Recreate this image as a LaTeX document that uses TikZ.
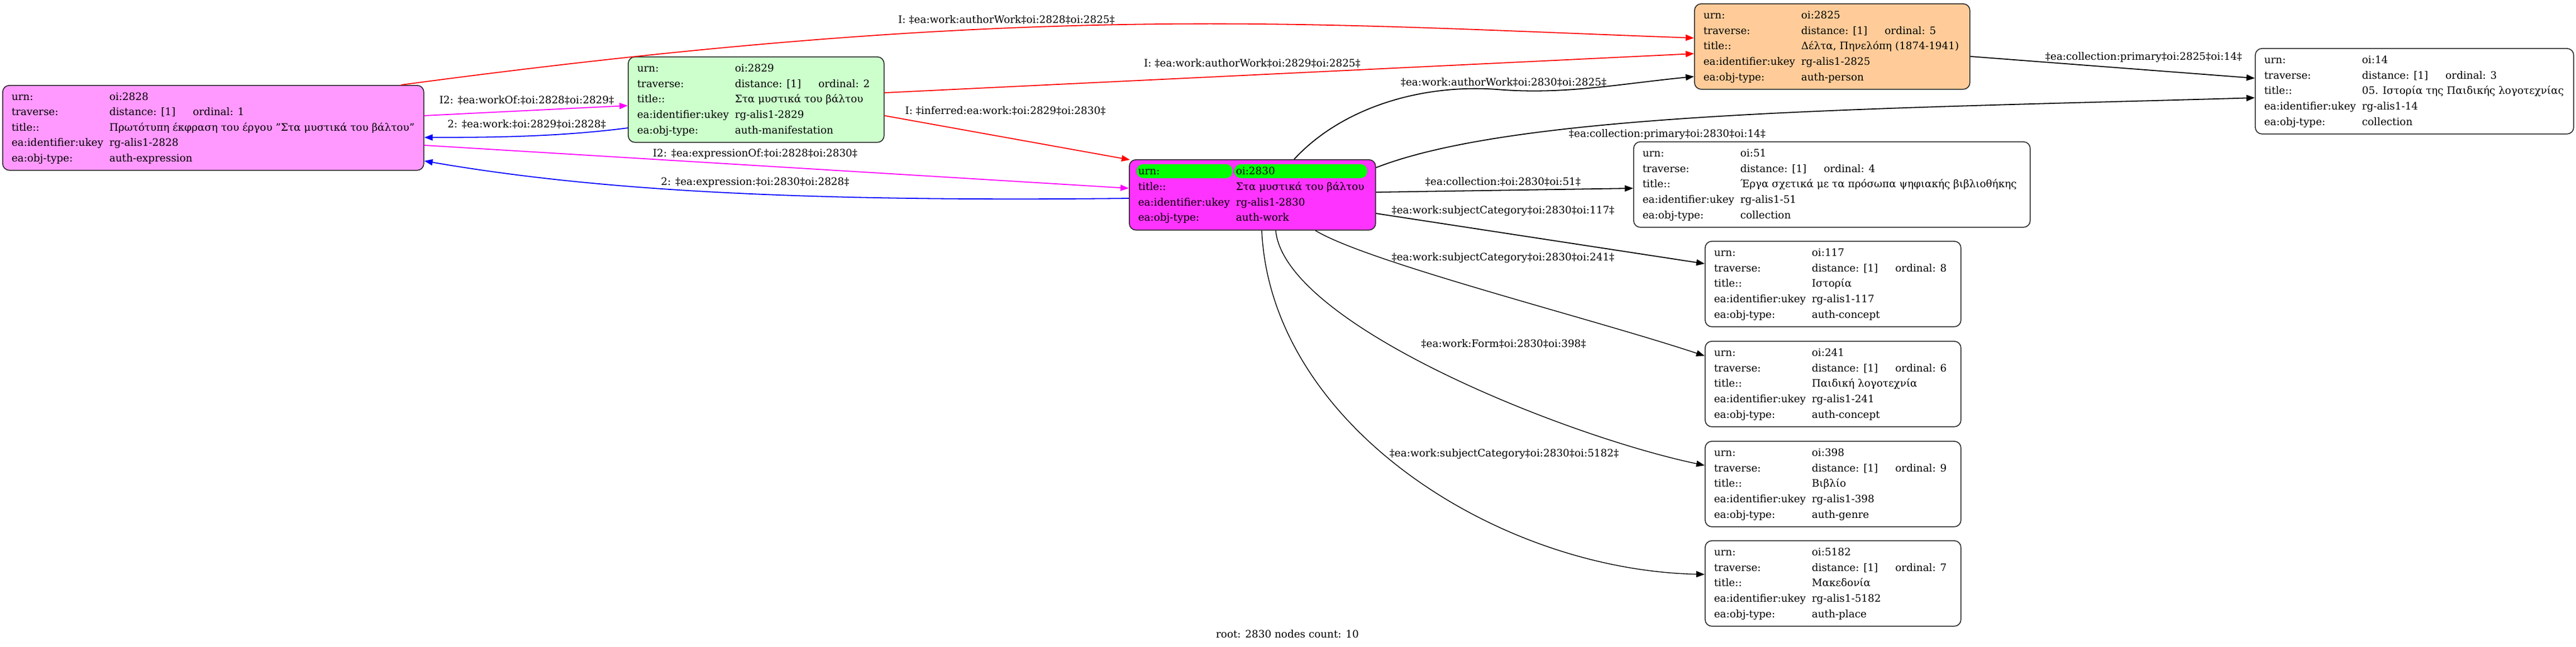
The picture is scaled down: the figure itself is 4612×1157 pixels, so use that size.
\documentclass[tikz,border=0pt]{standalone}
\usepackage{fontspec}
\setmainfont{DejaVu Serif}
\usetikzlibrary{arrows.meta,calc}
\definecolor{cPink}{HTML}{FF99FF}
\definecolor{cGreen}{HTML}{CCFFCC}
\definecolor{cMag}{HTML}{FF33FF}
\definecolor{cOrange}{HTML}{FFCC99}
\definecolor{cHi}{HTML}{00FF00}
\definecolor{eRed}{HTML}{FF0000}
\definecolor{eMag}{HTML}{FF00FF}
\definecolor{eBlue}{HTML}{0000FF}
\tikzset{
  recbox/.style={draw=black!85, line width=1.6pt, rounded corners=12pt, anchor=north west,
    inner xsep=16pt, inner ysep=0pt, align=left, font=\fontsize{18.4}{27.6}\selectfont},
  conn/.style={line width=1.8pt, -{Triangle[length=15pt,width=11pt]}},
  elab/.style={font=\fontsize{18.4}{22}\selectfont, inner sep=0pt},
}
\newcommand\rr[2]{\makebox[175pt][l]{\strut #1}\makebox[\vw][l]{#2}}
\newcommand\trav[1]{distance: [1]\hspace{31pt}ordinal: #1}
\begin{document}
\begin{tikzpicture}[x=1pt,y=-1pt]
\fill[white] (0,0) rectangle (4612,1157);
\useasboundingbox (0,0) rectangle (4612,1157);

% ---- boxes
\def\vw{547pt}
\node[recbox, fill=cPink, minimum width=754pt, minimum height=152pt] (n2828) at (4,152)
 {\rr{urn:}{oi:2828}\\ \rr{traverse:}{\trav{1}}\\ \rr{title::}{Πρωτότυπη έκφραση του έργου "Στα μυστικά του βάλτου"}\\ \rr{ea:identifier:ukey}{rg-alis1-2828}\\ \rr{ea:obj-type:}{auth-expression}};
\def\vw{251pt}
\node[recbox, fill=cGreen, minimum width=458pt, minimum height=153pt] (n2829) at (1124,101)
 {\rr{urn:}{oi:2829}\\ \rr{traverse:}{\trav{2}}\\ \rr{title::}{Στα μυστικά του βάλτου}\\ \rr{ea:identifier:ukey}{rg-alis1-2829}\\ \rr{ea:obj-type:}{auth-manifestation}};
\def\vw{234pt}
\node[recbox, fill=cMag, minimum width=441pt, minimum height=126pt,
  path picture={\fill[cHi] ([shift={(13pt,-8pt)}]path picture bounding box.north west) rectangle ++(172pt,-25pt);
                \fill[cHi] ([shift={(188pt,-8pt)}]path picture bounding box.north west) rectangle ++(238pt,-25pt);}] (n2830) at (2021,285)
 {\rr{urn:}{oi:2830}\\ \rr{title::}{Στα μυστικά του βάλτου}\\ \rr{ea:identifier:ukey}{rg-alis1-2830}\\ \rr{ea:obj-type:}{auth-work}};
\def\vw{286pt}
\node[recbox, fill=cOrange, minimum width=493pt, minimum height=153pt] (n2825) at (3033,6)
 {\rr{urn:}{oi:2825}\\ \rr{traverse:}{\trav{5}}\\ \rr{title::}{Δέλτα, Πηνελόπη (1874-1941)}\\ \rr{ea:identifier:ukey}{rg-alis1-2825}\\ \rr{ea:obj-type:}{auth-person}};
\def\vw{363pt}
\node[recbox, fill=white, minimum width=570pt, minimum height=153pt] (n14) at (4037,86)
 {\rr{urn:}{oi:14}\\ \rr{traverse:}{\trav{3}}\\ \rr{title::}{05. Ιστορία της Παιδικής λογοτεχνίας}\\ \rr{ea:identifier:ukey}{rg-alis1-14}\\ \rr{ea:obj-type:}{collection}};
\def\vw{503pt}
\node[recbox, fill=white, minimum width=710pt, minimum height=153pt] (n51) at (2924,253)
 {\rr{urn:}{oi:51}\\ \rr{traverse:}{\trav{4}}\\ \rr{title::}{Έργα σχετικά με τα πρόσωπα ψηφιακής βιβλιοθήκης}\\ \rr{ea:identifier:ukey}{rg-alis1-51}\\ \rr{ea:obj-type:}{collection}};
\def\vw{251pt}
\node[recbox, fill=white, minimum width=458pt, minimum height=153pt] (n117) at (3052,431)
 {\rr{urn:}{oi:117}\\ \rr{traverse:}{\trav{8}}\\ \rr{title::}{Ιστορία}\\ \rr{ea:identifier:ukey}{rg-alis1-117}\\ \rr{ea:obj-type:}{auth-concept}};
\node[recbox, fill=white, minimum width=458pt, minimum height=153pt] (n241) at (3052,610)
 {\rr{urn:}{oi:241}\\ \rr{traverse:}{\trav{6}}\\ \rr{title::}{Παιδική λογοτεχνία}\\ \rr{ea:identifier:ukey}{rg-alis1-241}\\ \rr{ea:obj-type:}{auth-concept}};
\node[recbox, fill=white, minimum width=458pt, minimum height=153pt] (n398) at (3052,789)
 {\rr{urn:}{oi:398}\\ \rr{traverse:}{\trav{9}}\\ \rr{title::}{Βιβλίο}\\ \rr{ea:identifier:ukey}{rg-alis1-398}\\ \rr{ea:obj-type:}{auth-genre}};
\node[recbox, fill=white, minimum width=458pt, minimum height=153pt] (n5182) at (3052,967)
 {\rr{urn:}{oi:5182}\\ \rr{traverse:}{\trav{7}}\\ \rr{title::}{Μακεδονία}\\ \rr{ea:identifier:ukey}{rg-alis1-5182}\\ \rr{ea:obj-type:}{auth-place}};

% ---- connectors
\draw[conn, eRed] ($(n2828.north west)+(714,0)$) .. controls (1850,0) and (2333,43) .. ($(n2825.north west)+(0,62)$);
\draw[conn, eRed] ($(n2829.north east)+(0,65)$) -- ($(n2825.north west)+(0,90)$);
\draw[conn, eRed] ($(n2829.north east)+(0,106)$) -- ($(n2830.north west)+(2,1)$);
\draw[conn, eMag] ($(n2828.north east)+(0,55)$) -- ($(n2829.north west)+(0,88)$);
\draw[conn, eBlue] ($(n2829.north west)+(0,128)$) .. controls (1000,245) and (880,246) .. ($(n2828.north east)+(0,94)$);
\draw[conn, eMag] ($(n2828.north east)+(0,108)$) -- ($(n2830.north west)+(0,52)$);
\draw[conn, eBlue] ($(n2830.north west)+(0,70)$) .. controls (1400,362) and (1050,338) .. ($(n2828.north east)+(0,136)$);
\draw[conn] ($(n2830.north west)+(296,0)$) .. controls (2400,195) and (2540,150) .. (2680,160) .. controls (2800,170) and (2900,150) .. ($(n2825.north west)+(0,131)$);
\draw[conn] ($(n2825.north east)+(0,95)$) -- ($(n14.north west)+(0,54)$);
\draw[conn] ($(n2830.north east)+(0,15)$) .. controls (2720,200) and (3350,195) .. ($(n14.north west)+(0,89)$);
\draw[conn] ($(n2830.north east)+(0,59)$) -- ($(n51.north west)+(0,84)$);
\draw[conn] ($(n2830.north east)+(0,97)$) -- ($(n117.north west)+(0,41)$);
\draw[conn, line width=1.4pt] ($(n2830.south west)+(334,0)$) .. controls (2450,470) and (2850,570) .. ($(n241.north west)+(0,27)$);
\draw[conn, line width=1.4pt] ($(n2830.south west)+(263,0)$) .. controls (2300,580) and (2800,780) .. ($(n398.north west)+(0,44)$);
\draw[conn, line width=1.4pt] ($(n2830.south west)+(238,0)$) .. controls (2275,760) and (2680,1020) .. ($(n5182.north west)+(0,61)$);

% ---- labels
\node[elab] (l1) at (1802,35) {I: ‡ea:work:authorWork‡oi:2828‡oi:2825‡};
\node[elab] (l2) at (2242,113) {I: ‡ea:work:authorWork‡oi:2829‡oi:2825‡};
\node[elab] (l3) at (1800,198) {I: ‡inferred:ea:work:‡oi:2829‡oi:2830‡};
\node[elab] (l4) at (943,179) {I2: ‡ea:workOf:‡oi:2828‡oi:2829‡};
\node[elab] (l5) at (943,222) {2: ‡ea:work:‡oi:2829‡oi:2828‡};
\node[elab] (l6) at (1352,275) {I2: ‡ea:expressionOf:‡oi:2828‡oi:2830‡};
\node[elab] (l7) at (1352,327) {2: ‡ea:expression:‡oi:2830‡oi:2828‡};
\node[elab] (l8) at (2692,147) {‡ea:work:authorWork‡oi:2830‡oi:2825‡};
\node[elab] (l9) at (3838,103) {‡ea:collection:primary‡oi:2825‡oi:14‡};
\node[elab] (l10) at (2985,241) {‡ea:collection:primary‡oi:2830‡oi:14‡};
\node[elab] (l11) at (2691,325) {‡ea:collection:‡oi:2830‡oi:51‡};
\node[elab] (l12) at (2691,378) {‡ea:work:subjectCategory‡oi:2830‡oi:117‡};
\node[elab] (l13) at (2691,462) {‡ea:work:subjectCategory‡oi:2830‡oi:241‡};
\node[elab] (l14) at (2692,615) {‡ea:work:Form‡oi:2830‡oi:398‡};
\node[elab] (l15) at (2693,813) {‡ea:work:subjectCategory‡oi:2830‡oi:5182‡};
\node[elab] (foot) at (2305,1135) {root: 2830 nodes count: 10};
\end{tikzpicture}
\end{document}
